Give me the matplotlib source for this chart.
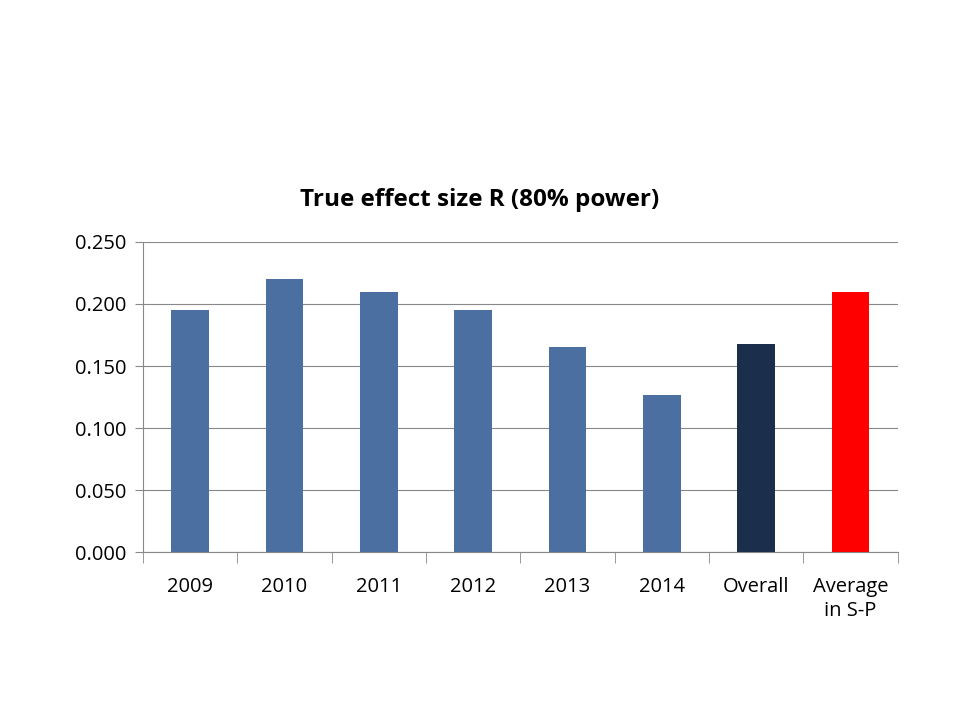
import matplotlib
matplotlib.use('Agg')
import numpy as np
import matplotlib.pyplot as plt

categories = ['2009', '2010', '2011', '2012', '2013', '2014', 'Overall', 'Average\nin S-P']
values = [0.195, 0.220, 0.210, 0.195, 0.165, 0.127, 0.168, 0.210]
colors = ['#4a6fa0'] * 6 + ['#1b2e4b', '#ff0000']

plt.rcParams['font.family'] = ['Open Sans', 'DejaVu Sans']

fig = plt.figure(figsize=(9.6, 7.2), dpi=100)
ax = fig.add_axes([0.149, 0.233, 0.786, 0.431])

x = np.arange(len(categories))
ax.bar(x, values, width=0.4, color=colors, zorder=3)

ax.set_xlim(-0.5, len(categories) - 0.5)
ax.set_ylim(0, 0.25)
ax.set_yticks(np.arange(0, 0.2501, 0.05))
ax.set_yticklabels([f'{v:.3f}' for v in np.arange(0, 0.2501, 0.05)], fontsize=14.5)
ax.set_xticks(x)
ax.set_xticklabels(categories, fontsize=14.5, linespacing=1.25)
ax.tick_params(axis='x', length=0, pad=18)
ax.set_xticks(np.arange(-0.5, len(categories), 1), minor=True)
ax.tick_params(axis='x', which='minor', length=8, color='#888888')
ax.tick_params(axis='y', length=6, color='#888888', pad=6)
ax.grid(axis='y', color='#888888', linewidth=0.8, zorder=0)

for s in ['top', 'right']:
    ax.spines[s].set_visible(False)
for s in ['left', 'bottom']:
    ax.spines[s].set_color('#888888')

fig.text(0.5, 0.722, 'True effect size R (80% power)', ha='center', va='center',
         fontsize=17.5, fontweight='bold')

fig.savefig('out.png', dpi=100)
